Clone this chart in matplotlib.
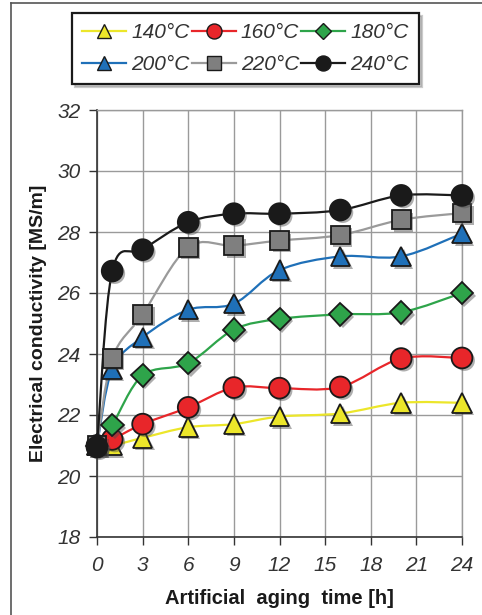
import numpy as np
import matplotlib.pyplot as plt
from matplotlib.path import Path
from matplotlib.patches import PathPatch
from matplotlib.lines import Line2D
import matplotlib.patheffects as pe

plt.rcParams['font.family'] = ['Liberation Sans', 'DejaVu Sans']

## data
t = [0, 1, 3, 6, 9, 12, 16, 20, 24]  # aging time [h]
labels = ['140°C', '160°C', '180°C', '200°C', '220°C', '240°C']
s140 = [21.0, 21.0, 21.25, 21.6, 21.7, 21.95, 22.05, 22.4, 22.4]
s160 = [21.0, 21.2, 21.7, 22.25, 22.9, 22.88, 22.92, 23.85, 23.87]
s180 = [21.0, 21.67, 23.3, 23.7, 24.8, 25.15, 25.3, 25.37, 26.0]
s200 = [21.0, 23.5, 24.55, 25.45, 25.65, 26.75, 27.2, 27.2, 27.95]
s220 = [21.0, 23.85, 25.3, 27.5, 27.55, 27.72, 27.9, 28.4, 28.62]
s240 = [20.95, 26.72, 27.42, 28.32, 28.6, 28.6, 28.72, 29.2, 29.2]
series = [s140, s160, s180, s200, s220, s240]

# styles
lineColors = ['#ece62a', '#e8262a', '#2ea44a', '#1f70b8', '#9a9a9a', '#1a1a1a']
faceColors = ['#ece62a', '#e8262a', '#2ea44a', '#1f70b8', '#7f7f7f', '#1a1a1a']
markers = ['^', 'o', 'D', '^', 's', 'o']
sizes = [14, 15, 11.5, 14, 13.5, 15]


# smooth curve through the points (Catmull-Rom as cubic Bezier, like Excel)
def smoothPath(x, y):
    n = len(x)
    verts = [(x[0], y[0])]
    codes = [Path.MOVETO]
    for i in range(n - 1):
        a = max(i - 1, 0)
        b = min(i + 2, n - 1)
        c1 = (x[i] + (x[i + 1] - x[a]) / 6, y[i] + (y[i + 1] - y[a]) / 6)
        c2 = (x[i + 1] - (x[b] - x[i]) / 6, y[i + 1] - (y[b] - y[i]) / 6)
        verts += [c1, c2, (x[i + 1], y[i + 1])]
        codes += [Path.CURVE4] * 3
    return Path(verts, codes)


fig = plt.figure(figsize=(4.82, 6.15), dpi=100)
ax = fig.add_axes([97 / 482, 1 - 537 / 615, 365 / 482, 427 / 615])

shadow = [pe.SimplePatchShadow(offset=(1.8, -1.8), shadow_rgbFace='0.3', alpha=0.45), pe.Normal()]

handles = []
for k in range(len(series)):
    ax.add_patch(PathPatch(smoothPath(t, series[k]), facecolor='none',
                           edgecolor=lineColors[k], lw=1.6, zorder=3 + k))
for k in range(len(series)):
    ax.plot(t, series[k], linestyle='none', marker=markers[k], markersize=sizes[k],
            markerfacecolor=faceColors[k], markeredgecolor='#1a1a1a', markeredgewidth=1.3,
            zorder=10 + k, path_effects=shadow, clip_on=False)
    handles.append(Line2D([], [], color=lineColors[k], lw=1.6, marker=markers[k],
                          markersize=sizes[k] * 0.72, markerfacecolor=faceColors[k],
                          markeredgecolor='#1a1a1a', markeredgewidth=1.0))

# axes
ax.set_xlim(0, 24)
ax.set_ylim(18, 32)
ax.set_xticks(np.arange(0, 25, 3))
ax.set_yticks(np.arange(18, 33, 2))
ax.grid(True, color='#9a9a9a', lw=1.0)
ax.set_axisbelow(True)
for side in ['top', 'right']:
    ax.spines[side].set_color('#9a9a9a')
    ax.spines[side].set_linewidth(1.0)
for side in ['left', 'bottom']:
    ax.spines[side].set_color('#333333')
    ax.spines[side].set_linewidth(1.2)
ax.tick_params(direction='out', length=6, width=1.0, color='#333333',
               labelsize=15, labelcolor='#333333', pad=6)
ax.tick_params(axis='x', pad=8)
for lab in ax.get_xticklabels() + ax.get_yticklabels():
    lab.set_fontstyle('italic')
ax.set_xlabel('Artificial  aging  time [h]', fontsize=14.5, fontweight='bold',
              color='#1a1a1a', labelpad=10)
ax.set_ylabel('Electrical conductivity [MS/m]', fontsize=14, fontweight='bold',
              color='#1a1a1a', labelpad=7)

# legend: row 1 = 140,160,180 ; row 2 = 200,220,240
order = [0, 3, 1, 4, 2, 5]
leg = fig.legend([handles[i] for i in order], [labels[i] for i in order],
                 loc='upper left', bbox_to_anchor=(72 / 482, 1 - 13 / 615), ncol=3,
                 borderaxespad=0, frameon=True, fancybox=False,
                 shadow={'color': '0.6', 'alpha': 0.5},
                 handlelength=2.1, handletextpad=0.25, columnspacing=0.1,
                 borderpad=0.5, labelspacing=0.6,
                 prop={'size': 15, 'style': 'italic'})
leg.get_frame().set_edgecolor('#1a1a1a')
leg.get_frame().set_linewidth(1.6)
for txt in leg.get_texts():
    txt.set_color('#333333')

# outer frame (left and top edges)
fig.add_artist(Line2D([11 / 482, 11 / 482], [0, 1 - 3 / 615], color='#555555', lw=1.2))
fig.add_artist(Line2D([11 / 482, 1], [1 - 3 / 615, 1 - 3 / 615], color='#555555', lw=1.2))

fig.savefig('out.png', dpi=100)
